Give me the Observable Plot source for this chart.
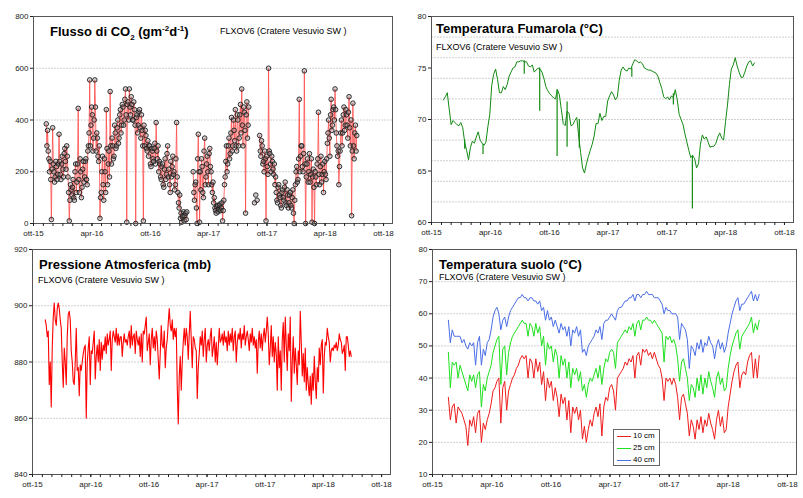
<!DOCTYPE html>
<html><head><meta charset="utf-8">
<script src="https://cdn.jsdelivr.net/npm/d3@7"></script>
<script src="https://cdn.jsdelivr.net/npm/@observablehq/plot@0.6"></script>
<style>
body{margin:0;background:#fff;}
#wrap{position:relative;width:803px;height:498px;overflow:hidden;font-family:"Liberation Sans",Arial,sans-serif;color:#000;}
.title{position:absolute;font-weight:bold;font-size:13px;line-height:1;white-space:nowrap;}
.title sub,.title sup{font-size:8px;line-height:0;}
.sub{position:absolute;font-size:9px;line-height:1;white-space:nowrap;}
#legend{position:absolute;left:613px;top:429px;width:45px;height:35px;border:1px solid #666;background:#fff;font-size:8px;}
#legend div{position:relative;height:12px;line-height:12px;padding-left:19px;}
#legend span{position:absolute;left:3px;top:6px;width:14px;height:0;border-top:1px solid;}
</style></head>
<body><div id="wrap"></div>
<script>
// ---------- data ----------
const monthsIt = ["gen","feb","mar","apr","mag","giu","lug","ago","set","ott","nov","dic"];
const titles = ["Flusso di CO2 (gm-2d-1)", "Temperatura Fumarola (°C)", "Pressione Atmosferica (mb)", "Temperatura suolo (°C)"];
const station = "FLXOV6 (Cratere Vesuvio SW )";
const depthLabels = ["10 cm", "25 cm", "40 cm"];

// CO2 flux, readings every 4 days from 2015-11-10 (null = no data)
const co2Start = "2015-11-10", co2StepDays = 4;
const co2Values = [
385,360,250,240,15,370,200,180,220,190,
345,190,230,210,270,240,300,180,10,150,
110,170,90,230,160,445,120,200,140,240,
180,250,150,300,555,380,420,330,555,280,
330,240,20,120,260,90,200,440,150,280,
510,230,300,260,350,300,400,330,440,380,
450,400,520,5,470,520,420,460,400,440,
0,420,380,440,330,360,10,300,340,280,
260,300,220,280,240,310,390,250,200,230,
170,230,140,250,190,300,210,120,180,260,
200,150,390,120,60,20,5,30,10,40,
45,null,null,null,null,200,90,160,0,345,
5,130,220,100,330,180,260,150,290,200,
120,80,60,40,70,55,75,60,10,90,
180,300,230,330,270,410,300,360,440,280,
400,330,460,520,300,430,40,470,380,null,
null,null,null,80,110,90,null,340,260,300,
240,280,10,220,600,270,200,240,190,150,
120,80,150,100,60,130,90,160,70,110,
80,120,60,130,0,150,220,170,480,260,
300,200,590,0,230,160,270,190,5,210,
0,180,230,430,150,260,190,120,240,170,
310,400,260,480,380,450,520,350,260,150,
280,400,350,450,380,420,330,490,300,30,
465,250,380,340];
// CO2 flux, intermediate readings (every 4 days from 2015-11-12)
const co2StartB = "2015-11-12";
const co2ValuesB = [
300,280,200,170,210,230,160,240,170,230,
240,170,260,180,290,210,260,120,90,130,
140,100,200,120,230,170,250,100,210,160,
240,170,280,350,300,450,280,400,450,350,
260,300,100,200,150,250,120,290,230,180,
300,330,250,380,290,370,310,420,350,460,
380,480,420,460,400,450,490,400,470,380,
410,350,430,370,420,300,380,360,290,320,
300,230,290,250,290,230,280,300,240,180,
220,150,210,170,270,180,150,240,220,190,
130,250,180,80,110,40,25,45,30,15,
null,null,null,null,null,120,150,60,250,200,
200,250,120,280,150,230,200,270,220,150,
160,100,50,65,45,70,50,80,50,150,
240,200,300,250,350,280,400,320,300,420,
300,420,350,380,450,360,420,330,450,null,
null,null,null,null,null,null,null,280,320,230,
200,250,260,190,280,230,260,210,230,180,
90,140,110,70,120,100,140,80,130,60,
110,70,100,40,90,200,160,250,200,300,
220,270,230,180,250,200,160,250,180,140,
200,150,250,190,220,160,230,200,190,250,
350,330,420,360,440,400,440,300,280,220,
350,300,420,360,440,380,430,370,400,280,
300,350,280,null];

// Fumarole temperature, every 6 days from 2015-11-07
const fumStart = "2015-11-07", fumStepDays = 6;
const fumValues = [
71.9,72.2,72.6,71.0,69.5,69.9,69.7,69.5,69.4,69.7,
69.2,67.8,67.0,66.1,67.3,67.9,67.7,68.3,68.8,68.0,
67.7,67.5,67.8,69.3,70.5,73.3,74.4,74.9,73.9,72.6,
72.6,73.2,72.9,73.4,74.2,74.6,75.0,75.1,75.6,75.6,
75.7,75.7,75.6,75.6,75.2,75.1,75.3,74.6,74.8,75.0,
74.9,74.6,74.0,73.2,72.8,72.5,72.3,72.1,72.0,72.9,
72.4,71.0,69.6,69.4,70.8,70.6,69.4,69.5,69.9,70.2,
68.4,66.8,65.3,64.8,65.7,66.4,67.0,67.6,68.4,69.6,
69.6,70.6,69.9,70.3,70.3,71.8,72.3,72.7,72.4,71.9,
72.2,73.8,74.8,75.1,74.8,74.7,75.0,74.9,75.4,75.8,
75.7,75.5,75.6,75.4,75.0,74.9,74.8,74.8,74.7,74.6,
74.5,74.2,73.6,73.0,72.2,72.0,72.2,71.9,72.3,72.1,
72.9,71.9,70.5,70.0,69.5,68.6,67.8,67.0,66.3,66.5,
66.2,65.3,65.7,67.6,68.5,68.1,68.3,67.8,67.3,67.4,
67.4,67.7,68.3,68.7,68.2,68.0,69.8,71.4,73.4,74.9,
75.3,76.0,75.2,74.6,74.1,74.1,74.6,75.2,75.6,75.7,
75.2,75.5];
// short drops of the fumarole temperature
const fumDropDates = ["2016-01-12","2016-03-09","2016-07-15","2016-09-01","2016-10-25","2016-11-25","2017-01-02","2017-06-14","2017-10-21","2017-12-19"];
const fumDropFrom  = [68.0, 67.6, 75.7, 75.0, 72.9, 71.7, 70.0, 75.0, 72.5, 66.5];
const fumDropTo    = [67.1, 66.6, 74.4, 70.8, 66.4, 67.3, 67.2, 74.1, 71.4, 61.3];

// Atmospheric pressure, one reading every 3.14 days from 2015-11-10
const pressStart = "2015-11-10", pressStepDays = 3.14;
const pressValues = [
895,893,889,891,872,880,864,885,896,901,895,893,899,901,899,895,892,880,871,885,
880,872,889,897,898,895,884,880,873,872,880,892,877,878,868,879,877,880,883,885,
886,860,880,885,889,
872,884,883,887,891,874,882,886,880,888,877,887,881,886,884,889,883,890,886,888,
891,877,888,891,889,887,892,886,890,886,889,889,882,887,890,887,888,886,889,891,
885,893,886,889,890,883,891,888,886,889,882,890,880,891,890,893,896,884,887,890,
879,888,892,885,889,884,891,888,881,874,883,893,886,885,891,878,885,888,894,899,
893,891,895,888,892,889,892,871,858,875,882,870,880,887,892,886,892,889,881,890,
898,888,878,889,888,885,884,867,878,883,
889,886,891,882,888,892,880,886,888,884,889,892,882,885,889,880,887,879,885,892,
887,888,890,886,891,887,889,884,891,886,890,887,892,884,889,891,880,887,890,888,
892,885,890,888,893,886,889,891,888,884,890,887,892,886,889,885,888,876,887,891,
885,890,884,889,892,887,891,896,890,879,885,893,882,889,880,887,883,870,889,878,
884,870,888,894,880,896,886,877,890,884,896,866,880,889,876,885,879,872,884,879,
898,887,875,883,873,885,870,878,872,868,875,865,876,870,882,873,867,878,873,885,
879,886,888,869,882,887,886,892,889,887,880,884,885,884,886,885,887,884,886,890,
888,887,883,884,886,877,889,889,886,882,884,882];

// Soil temperature, every 6 days from 2015-11-19
const soilStart = "2015-11-19", soilStepDays = 6;
const soil10 = [
34,27,31,32,26,31,30,29,27,25,
19,27,25,28,23,29,30,20,26,24,
27,29,32,36,37,39,40,26,37,39,
30,36,38,40,41,43,44,46,47,46,
47,40,46,45,40,46,42,45,38,42,
33,40,37,39,33,37,34,28,35,32,
34,27,33,23,31,29,31,27,30,21,
25,20,24,27,25,29,31,28,32,22,
31,34,33,37,38,36,30,40,41,42,
43,45,44,46,45,47,40,47,48,44,
49,48,49,47,48,46,48,46,44,43,
40,33,40,39,40,38,40,38,34,27,
34,35,32,29,22,27,25,21,27,24,
28,23,27,25,29,26,24,21,27,30,
25,28,23,24,31,35,39,42,44,45,
37,41,42,41,45,47,48,40,46,40,
47];
const soil25 = [
48,37,45,44,45,40,44,42,40,38,
36,41,39,41,37,41,42,31,38,36,
40,42,44,48,50,52,53,38,49,50,
41,48,51,53,54,55,56,57,58,57,
57,53,57,56,53,57,54,56,50,53,
44,51,49,50,45,49,47,40,47,44,
46,40,45,37,43,41,43,39,42,36,
38,34,38,40,39,41,43,40,44,38,
43,46,45,48,49,48,43,51,52,53,
54,55,54,56,55,57,53,57,58,55,
58,58,59,58,58,57,58,57,56,55,
54,45,53,52,53,51,52,50,46,39,
45,46,43,40,33,38,37,34,40,36,
41,35,40,37,42,39,37,34,40,42,
38,40,36,37,43,47,50,52,54,55,
49,53,54,55,56,57,59,54,57,55,
58];
const soil40 = [
58,51,55,53,53,53,53,51,52,50,
49,51,50,51,44,51,53,44,49,47,
51,52,55,59,61,62,60,55,58,59,
56,59,61,62,63,64,65,65,66,65,
65,64,65,65,64,64,63,64,61,62,
58,61,58,59,56,58,56,54,57,55,
56,53,56,50,55,54,56,53,55,48,
49,47,50,51,52,53,55,54,56,52,
57,58,58,59,60,59,58,61,62,62,
63,64,64,65,65,66,64,66,66,65,
66,66,67,66,66,66,65,65,65,64,
63,60,62,61,61,60,60,60,59,52,
57,56,55,52,43,50,49,47,51,49,
52,48,51,50,53,51,50,46,50,52,
49,51,48,50,54,57,60,62,64,65,
61,63,63,64,65,66,67,64,66,64,
66];

const co2Ticks = [0,200,400,600,800], co2Grid = [200,400,600];
const fumTicks = [60,65,70,75,80], fumGrid = [62,64,66,68,70,72,74,76,78];
const pressTicks = [840,860,880,900,920], pressGrid = [860,880,900];
const soilTicks = [10,20,30,40,50,60,70,80], soilGrid = [20,30,40,50,60,70];

// ---------- helpers ----------
const DAY = 864e5;
const series = (start, step, values) => values.map((v, i) => ({date: new Date(Date.parse(start) + i * step * DAY), value: v == null ? NaN : v}));
const xDomain = [new Date("2015-10-01"), new Date("2018-10-29")];
const majorTicks = d3.utcMonth.range(new Date("2015-10-01"), new Date("2018-10-02"), 6);
const minorTicks = d3.utcMonth.range(new Date("2015-10-01"), new Date("2018-10-29"));
const fmt = d => monthsIt[d.getUTCMonth()] + "-" + String(d.getUTCFullYear()).slice(2);

const co2 = series(co2Start, co2StepDays, co2Values)
  .concat(series(co2StartB, co2StepDays, co2ValuesB))
  .sort((a, b) => a.date - b.date);
const fum = series(fumStart, fumStepDays, fumValues);
const fumDrops = fumDropDates.map((d, i) => ({date: new Date(d), from: fumDropFrom[i], to: fumDropTo[i]}));
const press = series(pressStart, pressStepDays, pressValues);
const soil = [soil10, soil25, soil40].flatMap((arr, k) => series(soilStart, soilStepDays, arr).map(o => ({...o, depth: depthLabels[k]})));
const soilColors = ["#ee1c1c", "#1fe01f", "#4a6ee6"];

const wrap = document.getElementById("wrap");
function panel({left, top, width, height, m, yDomain, yTicks, yGrid, marks}) {
  const chart = Plot.plot({
    width, height,
    marginTop: m[0], marginRight: m[1], marginBottom: m[2], marginLeft: m[3],
    x: {type: "utc", domain: xDomain},
    y: {domain: yDomain},
    color: {domain: depthLabels, range: soilColors},
    style: {fontFamily: "Liberation Sans, Arial, sans-serif", fontSize: "8px", color: "#222", background: "transparent", overflow: "visible"},
    marks: [
      Plot.gridY({ticks: yGrid, stroke: "#c4c4c4", strokeOpacity: 1, strokeWidth: 0.8, strokeDasharray: "2,1"}),
      ...marks,
      Plot.frame({stroke: "#555"}),
      Plot.axisX({ticks: minorTicks, tickSize: 3, tickFormat: () => "", label: null}),
      Plot.axisX({ticks: majorTicks, tickSize: 3, tickPadding: 4, tickFormat: fmt, label: null}),
      Plot.axisY({ticks: yTicks, tickSize: 3, tickPadding: 2, label: null})
    ]
  });
  chart.style.position = "absolute";
  chart.style.left = left + "px";
  chart.style.top = top + "px";
  wrap.appendChild(chart);
}

panel({left: 0, top: 0, width: 400, height: 245, m: [16, 8, 22, 33], yDomain: [0, 800], yTicks: co2Ticks, yGrid: co2Grid, marks: [
  Plot.line(co2, {x: "date", y: "value", stroke: "#ff4a4a", strokeWidth: 0.8}),
  Plot.dot(co2, {x: "date", y: "value", r: 2.3, stroke: "#1c1c1c", strokeWidth: 0.9, fill: "#8a8a8a", fillOpacity: 0.35})
]});
panel({left: 400, top: 0, width: 403, height: 245, m: [16, 10, 23, 31], yDomain: [60, 80], yTicks: fumTicks, yGrid: fumGrid, marks: [
  Plot.line(fum, {x: "date", y: "value", stroke: "#138a13", strokeWidth: 1}),
  Plot.ruleX(fumDrops, {x: "date", y1: "from", y2: "to", stroke: "#138a13", strokeWidth: 1.2})
]});
panel({left: 0, top: 240, width: 400, height: 258, m: [9, 10, 24, 32], yDomain: [840, 920], yTicks: pressTicks, yGrid: pressGrid, marks: [
  Plot.line(press, {x: "date", y: "value", stroke: "#ff0000", strokeWidth: 1.1})
]});
panel({left: 400, top: 240, width: 403, height: 258, m: [9, 7, 24, 32], yDomain: [10, 80], yTicks: soilTicks, yGrid: soilGrid, marks: [
  Plot.line(soil, {x: "date", y: "value", z: "depth", stroke: "depth", strokeWidth: 1})
]});

// titles and subtitles
function addText(cls, left, top, html) {
  const d = document.createElement("div");
  d.className = cls; d.style.left = left + "px"; d.style.top = top + "px";
  d.innerHTML = html; wrap.appendChild(d);
}
addText("title", 50, 25, "Flusso di CO<sub>2</sub> (gm<sup>-2</sup>d<sup>-1</sup>)");
addText("sub", 220, 27, station);
addText("title", 436, 22, titles[1]);
addText("sub", 436, 43, station);
addText("title", 39, 258, titles[2]);
addText("sub", 38, 276, station);
addText("title", 439, 258, titles[3]);
addText("sub", 439, 273, station);

const legend = document.createElement("div");
legend.id = "legend";
depthLabels.forEach((lab, k) => {
  const row = document.createElement("div");
  row.innerHTML = `<span style="border-color:${soilColors[k]}"></span>${lab}`;
  legend.appendChild(row);
});
wrap.appendChild(legend);
</script></body></html>
